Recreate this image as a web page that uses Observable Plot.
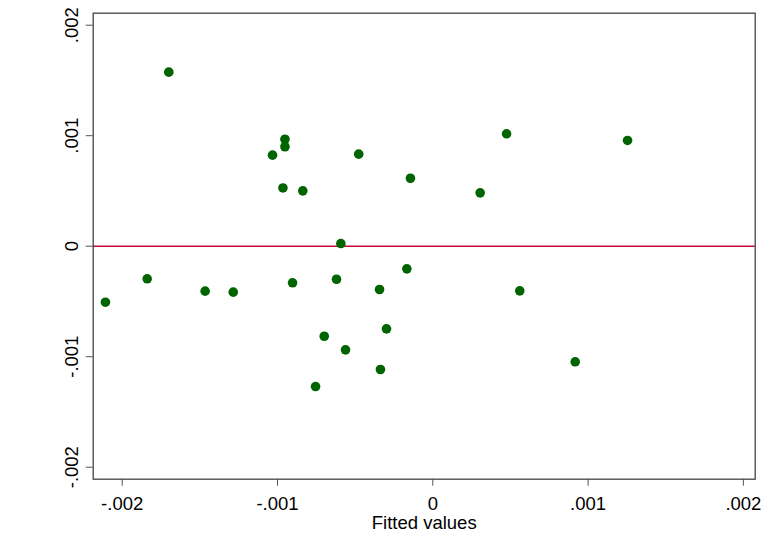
<!DOCTYPE html>
<html>
<head>
<meta charset="utf-8">
<script src="https://cdn.jsdelivr.net/npm/d3@7"></script>
<script src="https://cdn.jsdelivr.net/npm/@observablehq/plot@0.6"></script>
<style>
  html, body { margin: 0; padding: 0; background: #fff; }
  #chart svg { display: block; }
</style>
</head>
<body>
<div id="chart"></div>
<script>
// Fitted values (x) and residuals (y)
const fitted = [
  -0.002108, -0.001839, -0.001700, -0.001466, -0.001285, -0.001032, -0.000952,
  -0.000952, -0.000965, -0.000903, -0.000837, -0.000755, -0.000699, -0.000620,
  -0.000592, -0.000562, -0.000477, -0.000343, -0.000337, -0.000298, -0.000167,
  -0.000144, 0.000305, 0.000475, 0.000560, 0.000917, 0.001254
];
const residuals = [
  -0.000507, -0.000295, 0.001575, -0.000407, -0.000416, 0.000824, 0.000968,
  0.000900, 0.000527, -0.000331, 0.000501, -0.001270, -0.000815, -0.000299,
  0.000024, -0.000938, 0.000833, -0.000392, -0.001116, -0.000748, -0.000205,
  0.000615, 0.000483, 0.001017, -0.000404, -0.001046, 0.000957
];
const xTicks = [-0.002, -0.001, 0, 0.001, 0.002];
const yTicks = [-0.002, -0.001, 0, 0.001, 0.002];
const xLabel = "Fitted values";

const data = fitted.map((f, i) => ({fitted: f, residual: residuals[i]}));
const fmt = d => Math.abs(d) < 1e-12 ? "0" : d.toFixed(3).replace(/^(-?)0\./, "$1.");

const green = "#006400";
const red = "#c8083c";

const chart = Plot.plot({
  width: 764,
  height: 536,
  marginLeft: 92.7,
  marginRight: 9.3,
  marginTop: 12.7,
  marginBottom: 57.3,
  style: {
    fontFamily: "'Liberation Sans', Arial, sans-serif",
    fontSize: "18.5px",
    background: "#fff",
    color: "#000"
  },
  x: {domain: [-0.0021867, 0.0020760]},
  y: {domain: [-0.0021086, 0.0021086]},
  marks: [
    Plot.ruleY([0], {stroke: red, strokeWidth: 1.5}),
    Plot.dot(data, {x: "fitted", y: "residual", r: 4.8, fill: green, stroke: "none"}),
    Plot.frame({stroke: "#444", strokeWidth: 1.3}),
    Plot.axisX({
      ticks: xTicks, tickFormat: fmt, tickSize: 7, tickPadding: 11,
      stroke: "#555", fill: "#000",
      label: xLabel, labelAnchor: "center", labelArrow: "none", labelOffset: 49.5
    }),
    Plot.axisY({
      ticks: yTicks, tickFormat: fmt, tickSize: 7, tickPadding: 8.4, tickRotate: -90,
      stroke: "#555", fill: "#000", label: null
    })
  ]
});
document.getElementById("chart").appendChild(chart);
</script>
</body>
</html>
